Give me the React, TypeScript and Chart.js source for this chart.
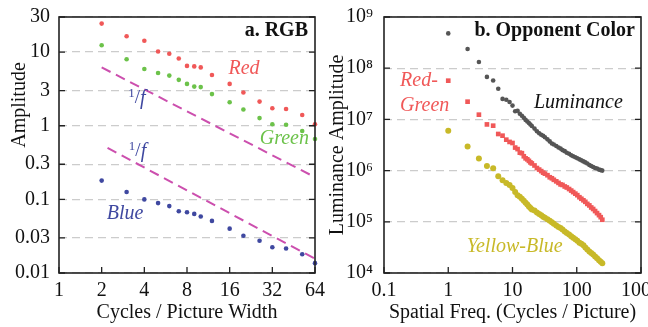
import React, { useEffect, useRef } from 'react';
import { Chart, registerables } from 'chart.js';

Chart.register(...registerables);

const SERIF = "'Liberation Serif', 'Times New Roman', serif";

// ---------- Panel a: RGB ----------
const rgbFreq = [2, 3, 4, 5, 6, 7, 8, 9, 10, 12, 16, 20, 26, 32, 40, 52, 64];
const redAmp = [24.4, 16.4, 14.3, 10.2, 9.5, 8.2, 6.5, 6.4, 6.2, 4.9, 3.7, 2.83, 2.13, 1.73, 1.69, 1.4, 1.05];
const greenAmp = [12.4, 8.0, 5.9, 5.2, 4.8, 4.2, 3.7, 3.4, 3.35, 2.69, 2.09, 1.66, 1.27, 1.05, 1.03, 0.85, 0.66];
const blueAmp = [0.18, 0.126, 0.1, 0.089, 0.081, 0.069, 0.067, 0.0635, 0.0585, 0.051, 0.04, 0.032, 0.0274, 0.0224, 0.0215, 0.018, 0.0136];
const upperRefFreq = [2, 64];
const upperRefAmp = [6.2, 0.2];
const lowerRefFreq = [2.2, 64];
const lowerRefAmp = [0.5, 0.0156];
const rgbXTicks = [1, 2, 4, 8, 16, 32, 64];
const rgbYTicks = [0.01, 0.03, 0.1, 0.3, 1, 3, 10, 30];

// ---------- Panel b: Opponent colour (log10 of amplitude) ----------
const specFreq = [1, 2, 3, 4, 5, 6, 7, 8, 9, 10, 11, 12, 13, 14, 15, 16, 17, 18, 19, 20, 22, 24, 26, 28, 30, 32, 35, 38, 41, 44, 48, 52, 56, 60, 65, 70, 76, 82, 88, 95, 102, 110, 118, 127, 136, 146, 157, 168, 180, 193, 207, 222, 236, 250];
const luminanceLog10 = [8.68, 8.375, 8.12, 7.83, 7.76, 7.6, 7.4, 7.385, 7.34, 7.27, 7.16, 7.17, 7.11, 7.07, 7.03, 6.99, 6.96, 6.93, 6.9, 6.87, 6.82, 6.77, 6.73, 6.7, 6.68, 6.65, 6.61, 6.57, 6.53, 6.51, 6.48, 6.45, 6.43, 6.4, 6.38, 6.35, 6.33, 6.3, 6.28, 6.26, 6.24, 6.22, 6.2, 6.18, 6.16, 6.14, 6.11, 6.09, 6.07, 6.05, 6.04, 6.02, 6.01, 6.0];
const redGreenLog10 = [7.756, 7.346, 7.092, 6.902, 6.877, 6.715, 6.682, 6.604, 6.56, 6.539, 6.45, 6.42, 6.35, 6.34, 6.28, 6.24, 6.22, 6.19, 6.16, 6.14, 6.1, 6.05, 6.02, 5.99, 5.96, 5.94, 5.91, 5.87, 5.85, 5.82, 5.79, 5.76, 5.73, 5.72, 5.69, 5.67, 5.64, 5.61, 5.58, 5.55, 5.52, 5.48, 5.45, 5.42, 5.39, 5.35, 5.32, 5.28, 5.25, 5.21, 5.17, 5.13, 5.09, 5.04];
const yellowBlueLog10 = [6.78, 6.47, 6.235, 6.09, 6.045, 5.89, 5.81, 5.76, 5.72, 5.66, 5.58, 5.52, 5.49, 5.45, 5.41, 5.37, 5.34, 5.3, 5.27, 5.24, 5.22, 5.18, 5.15, 5.13, 5.1, 5.08, 5.05, 5.02, 4.99, 4.96, 4.93, 4.9, 4.88, 4.85, 4.81, 4.78, 4.75, 4.72, 4.69, 4.66, 4.63, 4.59, 4.57, 4.54, 4.5, 4.46, 4.42, 4.39, 4.36, 4.32, 4.29, 4.25, 4.22, 4.19];
const specXTicks = [0.1, 1, 10, 100, 1000];
const specXLabels = ['0.1', '1', '10', '100', '1000'];
const specYTicks = [1e4, 1e5, 1e6, 1e7, 1e8, 1e9];
const specYLabels = ['10\u2074', '10\u2075', '10\u2076', '10\u2077', '10\u2078', '10\u2079'];

const RED = '#f05858';
const GREEN = '#6cc24a';
const BLUE = '#3f48a0';
const MAGENTA = '#cc4fae';
const GREY = '#555555';
const YELLOW = '#c8b928';

const pts = (xs: number[], ys: number[]) => xs.map((x, i) => ({ x, y: ys[i] }));
const ptsLog = (xs: number[], ls: number[]) => xs.map((x, i) => ({ x, y: Math.pow(10, ls[i]) }));

const framePlugin = {
  id: 'frame',
  afterDraw(chart: any) {
    const { ctx, chartArea: a, scales } = chart;
    const xs = scales.x;
    const ys = scales.y;
    ctx.save();
    ctx.strokeStyle = '#222';
    ctx.lineWidth = 1.3;
    ctx.beginPath();
    ys.ticks.forEach((t: any) => {
      const py = ys.getPixelForValue(t.value);
      ctx.moveTo(a.left, py);
      ctx.lineTo(a.left + 6, py);
      ctx.moveTo(a.right, py);
      ctx.lineTo(a.right - 6, py);
    });
    xs.ticks.forEach((t: any) => {
      const px = xs.getPixelForValue(t.value);
      ctx.moveTo(px, a.bottom);
      ctx.lineTo(px, a.bottom - 6);
    });
    ctx.stroke();
    ctx.lineWidth = 1.6;
    ctx.strokeRect(a.left, a.top, a.right - a.left, a.bottom - a.top);
    ctx.restore();
  },
};

const notesPlugin = {
  id: 'notes',
  afterDatasetsDraw(chart: any, _args: any, opts: any) {
    const { ctx, chartArea, scales } = chart;
    const xs = scales.x;
    const ys = scales.y;
    ctx.save();
    for (const n of opts.items || []) {
      const px = xs.getPixelForValue(n.x);
      const py = ys.getPixelForValue(n.y);
      ctx.fillStyle = n.color;
      if (n.frac) {
        ctx.textBaseline = 'alphabetic';
        ctx.textAlign = 'left';
        let cx = px - 9;
        ctx.font = `13px ${SERIF}`;
        ctx.fillText('1', cx, py + 1);
        cx += ctx.measureText('1').width;
        ctx.font = `19px ${SERIF}`;
        ctx.fillText('/', cx, py + 7);
        cx += ctx.measureText('/').width;
        ctx.font = `italic 20px ${SERIF}`;
        ctx.fillText('f', cx, py + 8);
      } else {
        ctx.textBaseline = 'middle';
        ctx.textAlign = n.align || 'center';
        ctx.font = `italic 20px ${SERIF}`;
        ctx.fillText(n.text, px, py);
      }
    }
    if (opts.title) {
      ctx.fillStyle = '#111';
      ctx.font = `bold 20px ${SERIF}`;
      ctx.textAlign = 'right';
      ctx.textBaseline = 'middle';
      ctx.fillText(opts.title, chartArea.right - opts.titleDx, chartArea.top + 14);
    }
    ctx.restore();
  },
};

const tickFont = { family: SERIF, size: 20 };

function makeAxes(opts: any) {
  return {
    x: {
      type: 'logarithmic',
      min: opts.xMin,
      max: opts.xMax,
      afterBuildTicks: (s: any) => {
        s.ticks = opts.xTicks.map((v: number) => ({ value: v }));
      },
      afterFit: (s: any) => {
        s.height = 54;
        s.paddingLeft = 0;
        s.paddingRight = 0;
      },
      ticks: {
        autoSkip: false,
        maxRotation: 0,
        padding: 6,
        color: '#111',
        font: tickFont,
        callback: (_v: any, i: number) => opts.xLabels[i],
      },
      grid: { display: false, drawTicks: false },
      border: { display: false },
      title: {
        display: true,
        text: opts.xTitle,
        color: '#111',
        font: { family: SERIF, size: 20 },
        padding: { top: 0, bottom: 2 },
      },
    },
    y: {
      type: 'logarithmic',
      min: opts.yMin,
      max: opts.yMax,
      afterBuildTicks: (s: any) => {
        s.ticks = opts.yTicks.map((v: number) => ({ value: v }));
      },
      afterFit: (s: any) => {
        s.width = opts.yWidth;
        s.paddingTop = 0;
        s.paddingBottom = 0;
      },
      ticks: {
        autoSkip: false,
        padding: opts.yPad,
        color: '#111',
        font: tickFont,
        callback: (_v: any, i: number) => opts.yLabels[i],
      },
      grid: { color: '#cccccc', lineWidth: 1.3, drawTicks: false },
      border: { display: false, dash: [8, 5] },
      title: {
        display: true,
        text: opts.yTitle,
        color: '#111',
        font: { family: SERIF, size: 20 },
        padding: { top: opts.yTitlePad, bottom: 0 },
      },
    },
  };
}

function RgbPanel() {
  const ref = useRef<HTMLCanvasElement>(null);
  useEffect(() => {
    const chart = new Chart(ref.current as HTMLCanvasElement, {
      type: 'scatter',
      data: {
        datasets: [
          { data: pts(upperRefFreq, upperRefAmp), showLine: true, borderColor: MAGENTA, borderWidth: 2, borderDash: [10, 6], pointRadius: 0 },
          { data: pts(lowerRefFreq, lowerRefAmp), showLine: true, borderColor: MAGENTA, borderWidth: 2, borderDash: [10, 6], pointRadius: 0 },
          { data: pts(rgbFreq, redAmp), backgroundColor: RED, borderWidth: 0, pointRadius: 2.3 },
          { data: pts(rgbFreq, greenAmp), backgroundColor: GREEN, borderWidth: 0, pointRadius: 2.3 },
          { data: pts(rgbFreq, blueAmp), backgroundColor: BLUE, borderWidth: 0, pointRadius: 2.3 },
        ],
      } as any,
      options: {
        responsive: false,
        animation: false,
        clip: false,
        layout: { padding: { left: 0, top: 17, right: 15, bottom: 0 } },
        plugins: {
          legend: { display: false },
          tooltip: { enabled: false },
          notes: {
            title: 'a. RGB',
            titleDx: 7,
            items: [
              { text: 'Red', x: 20.2, y: 6.0, color: RED },
              { text: 'Green', x: 38.9, y: 0.66, color: GREEN },
              { text: 'Blue', x: 2.93, y: 0.063, color: BLUE },
              { frac: true, x: 3.56, y: 2.5, color: BLUE },
              { frac: true, x: 3.6, y: 0.48, color: BLUE },
            ],
          },
        } as any,
        scales: makeAxes({
          xMin: 1, xMax: 64, xTicks: rgbXTicks, xLabels: rgbXTicks.map(String), xTitle: 'Cycles / Picture Width',
          yMin: 0.01, yMax: 30, yTicks: rgbYTicks, yLabels: rgbYTicks.map(String),
          yTitle: '                Amplitude', yWidth: 59, yPad: 9, yTitlePad: 8,
        }) as any,
      },
      plugins: [framePlugin, notesPlugin],
    });
    return () => chart.destroy();
  }, []);
  return <canvas ref={ref} width={330} height={327} style={{ position: 'absolute', left: 0, top: 0 }} />;
}

function OpponentPanel() {
  const ref = useRef<HTMLCanvasElement>(null);
  useEffect(() => {
    const chart = new Chart(ref.current as HTMLCanvasElement, {
      type: 'scatter',
      data: {
        datasets: [
          { data: ptsLog(specFreq, luminanceLog10), backgroundColor: GREY, borderWidth: 0, pointRadius: 2.3 },
          { data: ptsLog(specFreq, redGreenLog10), backgroundColor: RED, borderWidth: 0, pointRadius: 3.3, pointStyle: 'rect' },
          { data: ptsLog(specFreq, yellowBlueLog10), backgroundColor: YELLOW, borderWidth: 0, pointRadius: 3 },
        ],
      } as any,
      options: {
        responsive: false,
        animation: false,
        clip: false,
        layout: { padding: { left: 0, top: 17, right: 31, bottom: 0 } },
        plugins: {
          legend: { display: false },
          tooltip: { enabled: false },
          notes: {
            title: 'b. Opponent Color',
            titleDx: 6,
            items: [
              { text: 'Red-', x: 0.178, y: 5.7e7, color: RED, align: 'left' },
              { text: 'Green', x: 0.178, y: 1.85e7, color: RED, align: 'left' },
              { text: 'Luminance', x: 106, y: 2.1e7, color: '#111' },
              { text: 'Yellow-Blue', x: 10.8, y: 3.27e4, color: YELLOW },
            ],
          },
        } as any,
        scales: makeAxes({
          xMin: 0.1, xMax: 1000, xTicks: specXTicks, xLabels: specXLabels, xTitle: 'Spatial Freq. (Cycles / Picture)',
          yMin: 1e4, yMax: 1e9, yTicks: specYTicks, yLabels: specYLabels,
          yTitle: 'Luminance Amplitude', yWidth: 60, yPad: 11, yTitlePad: 2,
        }) as any,
      },
      plugins: [framePlugin, notesPlugin],
    });
    return () => chart.destroy();
  }, []);
  return <canvas ref={ref} width={348} height={327} style={{ position: 'absolute', left: 324, top: 0 }} />;
}

export default function App() {
  return (
    <div style={{ position: 'fixed', left: 0, top: 0, width: 648, height: 327, overflow: 'hidden', background: '#fff' }}>
      <RgbPanel />
      <OpponentPanel />
    </div>
  );
}
